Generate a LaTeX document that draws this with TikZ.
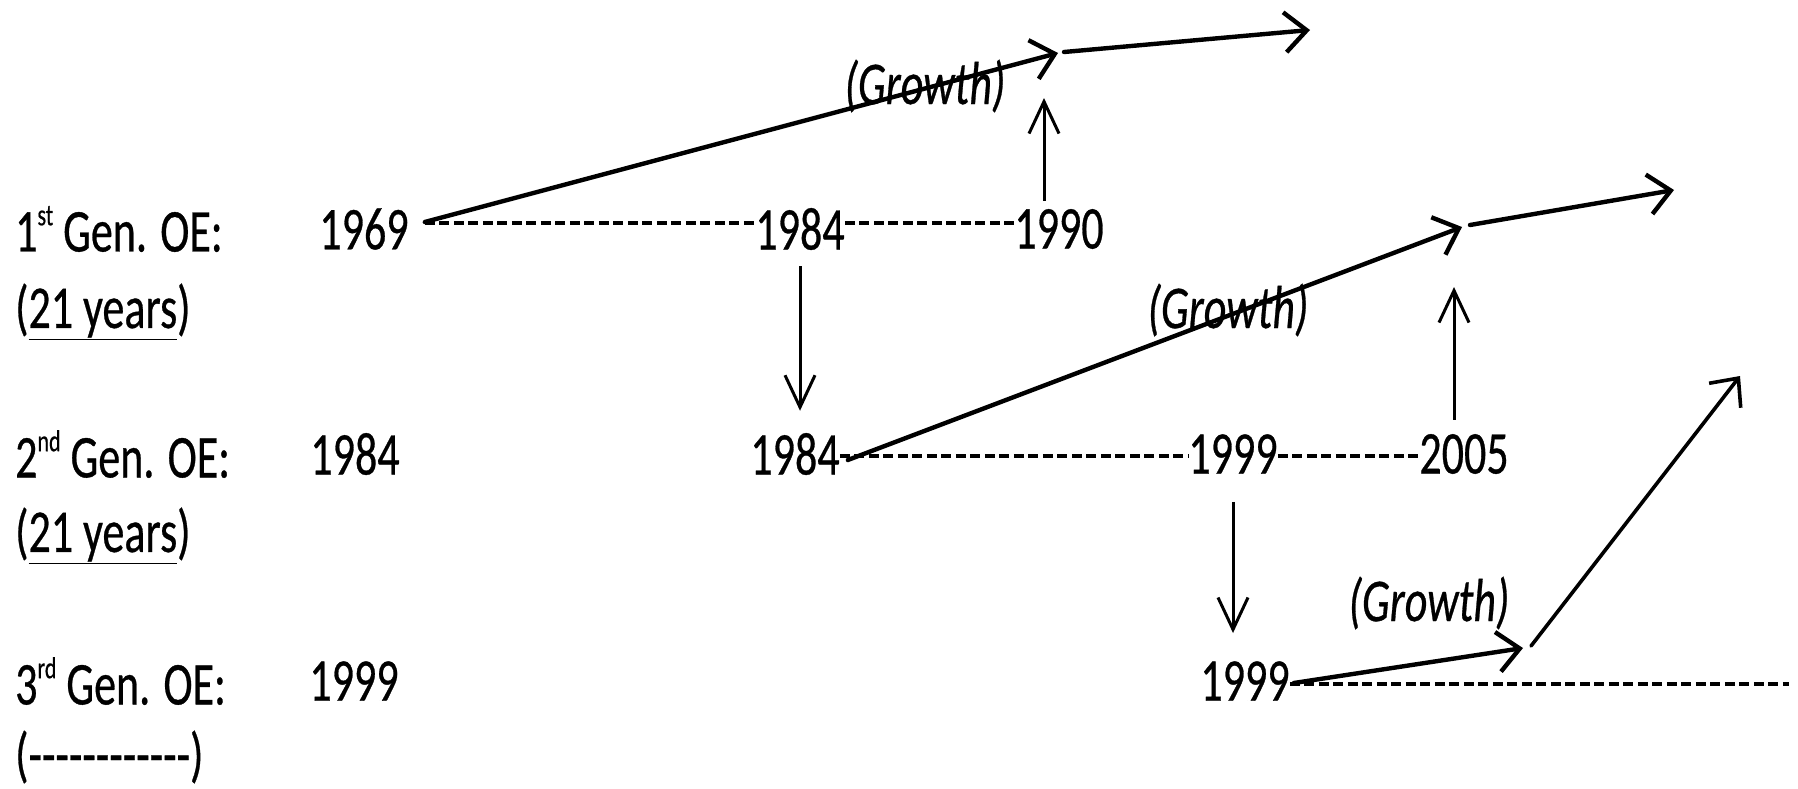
\documentclass[tikz,border=0pt]{standalone}
\usepackage{fontspec}
\setmainfont{Carlito}[FakeBold=0.6]
\usetikzlibrary{arrows.meta}

\newcommand\hy{-\kern0pt}
\newcommand\ordSup[1]{\raisebox{19pt}{\fontsize{22}{22}\selectfont #1}}

\begin{document}
\begin{tikzpicture}[x=1pt,y=-1pt,
    yearLbl/.style={inner sep=0pt, font=\fontsize{44}{50}\selectfont, yscale=1.38},
    genLbl/.style={yearLbl, anchor=west},
    growLbl/.style={yearLbl, font=\fontsize{44}{50}\selectfont\itshape},
    dashLine/.style={line width=3.6pt, dash pattern=on 10pt off 4.5pt},
    growArrow/.style={line width=4.4pt, line cap=round, -{Straight Barb[length=22pt,width=40pt]}},
    dropArrow/.style={line width=3pt, -{Straight Barb[length=32pt,width=30pt]}}]
    \useasboundingbox (0,0) rectangle (1798,788);

    % generation labels
    \node[genLbl] (gen1) at (15,229) {1\ordSup{st} Gen. OE:};
    \node[genLbl] (life1) at (15,312) {(\underline{21 years})};
    \node[genLbl] (gen2) at (15,454) {2\ordSup{nd} Gen. OE:};
    \node[genLbl] (life2) at (15,536) {(\underline{21 years})};
    \node[genLbl] (gen3) at (15,681) {3\ordSup{rd} Gen. OE:};
    \node[genLbl] (life3) at (15,757) {(\hy\hy\hy\hy\hy\hy\hy\hy\hy\hy\hy-)};

    % years
    \node[yearLbl] (y69) at (364,229) {1969};
    \node[yearLbl] (y84a) at (800,229) {1984};
    \node[yearLbl] (y90) at (1059,229) {1990};
    \node[yearLbl] (y84s) at (355,454) {1984};
    \node[yearLbl] (y84b) at (795,454) {1984};
    \node[yearLbl] (y99b) at (1233,454) {1999};
    \node[yearLbl] (y05) at (1464,454) {2005};
    \node[yearLbl] (y99s) at (354,681) {1999};
    \node[yearLbl] (y99c) at (1245,681) {1999};

    % turning points of the growth arrows
    \coordinate (j1a) at (1058,53);
    \coordinate (j1b) at (1064,52);
    \coordinate (e1) at (1310,30);
    \coordinate (j2a) at (1462,227);
    \coordinate (j2b) at (1470,225);
    \coordinate (e2) at (1674,190);
    \coordinate (j3a) at (1523,648);
    \coordinate (j3b) at (1531,646);
    \coordinate (e3) at (1740,376);
    \coordinate (u1) at (1044,98);
    \coordinate (u2) at (1454,287);
    \coordinate (r3end) at (1789,684);

    % time lines
    \draw[dashLine] ([yshift=6pt]y69.east) ++(16,0) -- ([yshift=6pt]y84a.west);
    \draw[dashLine] ([yshift=6pt]y84a.east) -- ([yshift=6pt]y90.west);
    \draw[dashLine] ([yshift=-2pt]y84b.east) -- ([yshift=-2pt]y99b.west);
    \draw[dashLine] ([yshift=-2pt]y99b.east) -- ([yshift=-2pt]y05.west);
    \draw[dashLine] ([yshift=-3pt]y99c.east) -- (r3end);

    % growth
    \draw[growArrow] ([shift={(16,-7)}]y69.east) -- (j1a);
    \draw[growArrow] (j1b) -- (e1);
    \draw[growArrow] ([shift={(8,6)}]y84b.east) -- (j2a);
    \draw[growArrow] (j2b) -- (e2);
    \draw[growArrow] ([shift={(4,2)}]y99c.east) -- (j3a);
    \draw[growArrow, line width=3.6pt] (j3b) -- (e3);

    % hand over to the next generation
    \draw[dropArrow, shorten <=16pt, shorten >=22pt] (y84a.south) -- (y84a.south |- y84b.north);
    \draw[dropArrow, shorten <=28pt, shorten >=28pt] (y99b.south) -- (y99b.south |- y99c.north);
    \draw[dropArrow] (u1 |- y90.north) ++(0,-8) -- (u1);
    \draw[dropArrow] (u2 |- y05.north) ++(0,-14) -- (u2);

    \node[growLbl] (gr1) at (925,86) {(Growth)};
    \node[growLbl] (gr2) at (1228,310) {(Growth)};
    \node[growLbl] (gr3) at (1429,603) {(Growth)};
\end{tikzpicture}
\end{document}
